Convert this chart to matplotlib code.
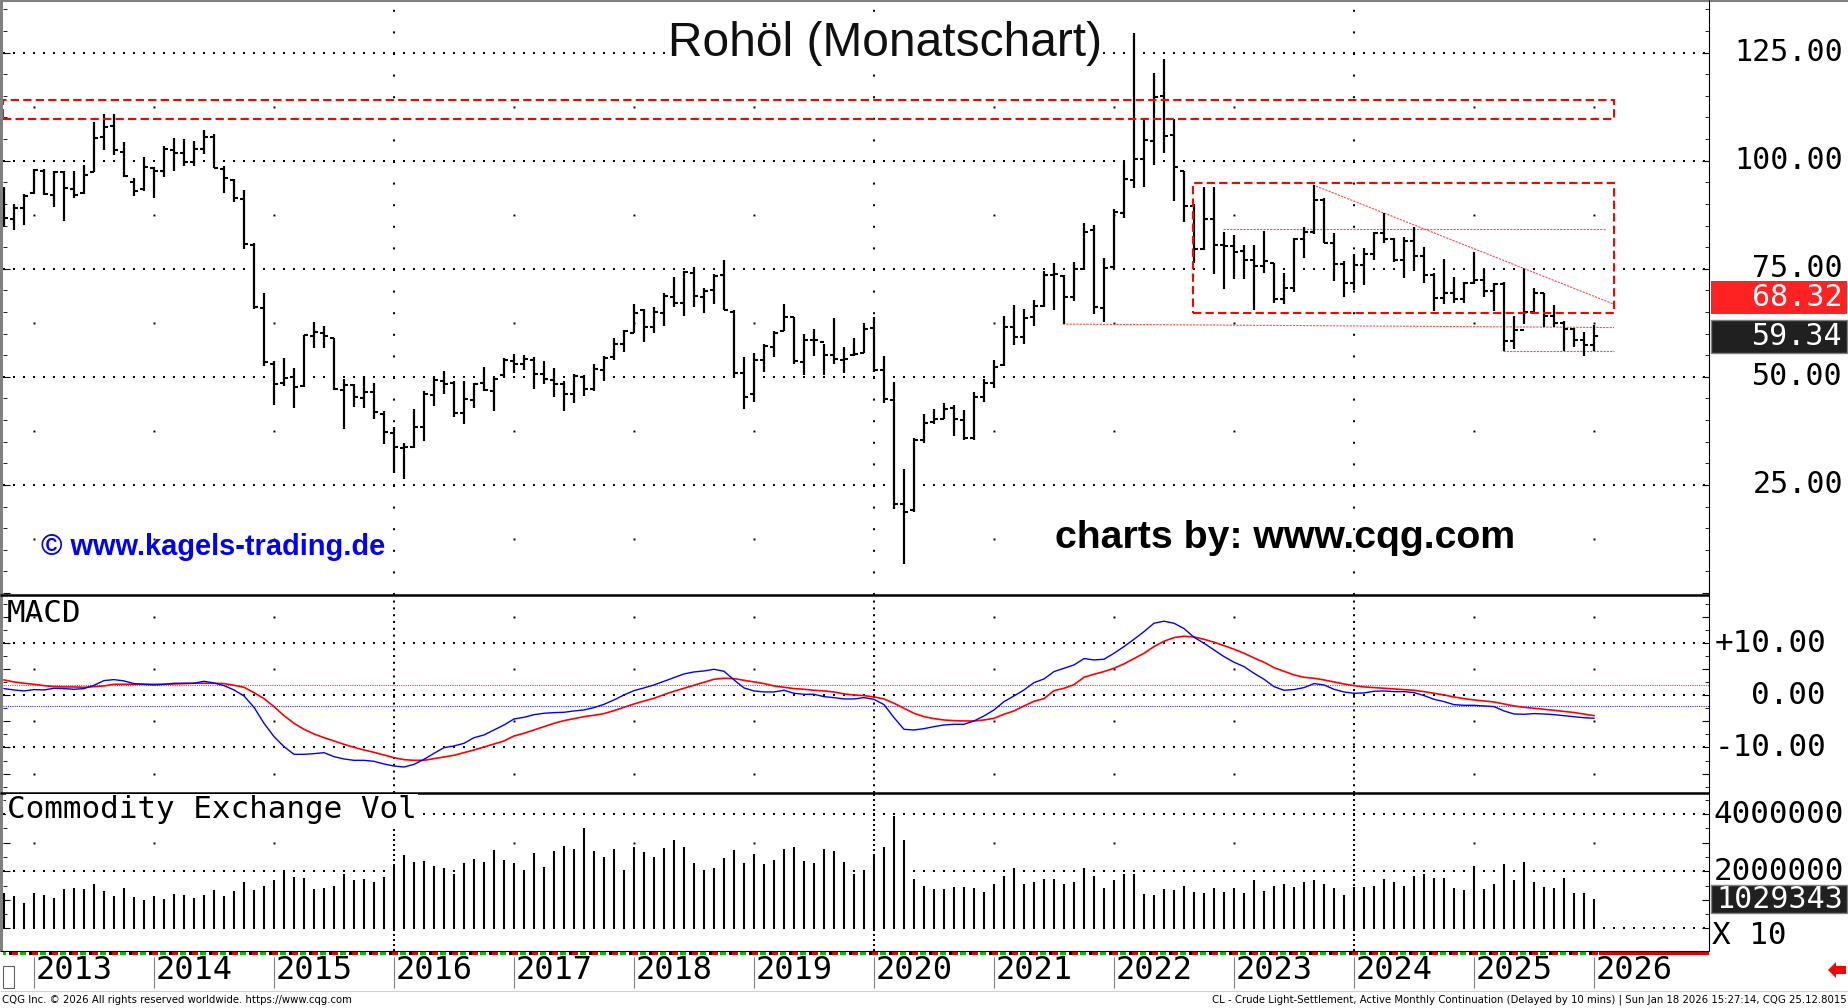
import numpy as np
import matplotlib
matplotlib.use('Agg')
import matplotlib.pyplot as plt
from matplotlib import font_manager
from matplotlib.patches import Rectangle, Polygon
from matplotlib.lines import Line2D
from matplotlib.transforms import blended_transform_factory

# monthly bars, Oct 2012 .. Jan 2026 (index 0 = Oct 2012)
opens = [92.0, 86.5, 89.0, 92.5, 97.5, 92.0, 97.3, 93.5, 92.5, 97.4,
         105.5, 108.0, 102.0, 95.0, 93.5, 98.2, 97.5, 102.5, 101.7, 99.6,
         102.6, 105.5, 98.0, 95.5, 91.2, 80.5, 66.0, 53.0, 48.5, 50.0,
         47.8, 59.5, 60.2, 59.0, 47.0, 48.0, 45.0, 46.5, 41.5, 37.0,
         33.5, 33.8, 38.3, 45.8, 49.0, 48.5, 41.7, 44.7, 48.6, 46.7,
         50.5, 53.7, 53.0, 54.0, 50.6, 49.3, 48.3, 46.0, 50.0, 47.2,
         51.6, 54.5, 57.5, 60.2, 65.5, 61.5, 64.7, 68.5, 67.0, 74.0,
         68.5, 70.0, 73.5, 65.0, 51.0, 46.0, 54.0, 56.8, 60.7, 63.8,
         53.5, 58.5, 58.0, 55.0, 54.0, 55.0, 55.5, 61.2, 51.5, 44.7,
         20.6, 19.2, 35.5, 39.5, 40.3, 42.8, 40.1, 35.8, 45.3, 48.5,
         52.7, 61.5, 59.2, 63.8, 66.5, 73.5, 73.4, 68.5, 75.0, 84.0,
         66.0, 75.5, 88.0, 95.5, 100.5, 104.5, 115.0, 106.0, 97.5, 89.5,
         79.5, 86.5, 80.5, 80.3, 79.0, 77.0, 75.7, 76.3, 68.1, 70.6,
         81.8, 83.5, 90.8, 81.0, 76.0, 71.7, 75.9, 78.3, 83.2, 81.9,
         77.0, 81.5, 77.9, 73.6, 68.2, 69.3, 68.0, 71.7, 72.5, 69.8,
         71.5, 58.2, 60.8, 65.1, 69.3, 64.0, 62.4, 61.0, 58.6, 57.4]

highs = [93.9, 89.9, 92.3, 98.0, 98.1, 97.6, 97.6, 97.6, 99.1, 108.9,
         110.7, 110.7, 104.4, 96.0, 100.8, 98.6, 103.4, 105.3, 104.9, 104.5,
         107.2, 106.1, 98.8, 95.7, 93.2, 81.0, 69.3, 53.7, 54.3, 52.0,
         59.7, 62.6, 61.8, 59.0, 49.4, 48.3, 50.3, 48.5, 42.0, 38.5,
         34.8, 42.5, 46.8, 50.0, 51.4, 49.1, 49.1, 48.5, 52.2, 49.9,
         54.4, 55.2, 55.0, 54.5, 53.7, 52.0, 49.1, 50.6, 50.4, 52.9,
         54.8, 59.0, 60.8, 66.8, 65.8, 66.2, 69.4, 73.0, 74.5, 75.3,
         70.5, 73.8, 77.0, 65.4, 54.5, 55.4, 57.6, 60.6, 66.8, 63.9,
         59.9, 61.0, 57.7, 63.5, 57.0, 58.9, 62.4, 63.9, 54.8, 48.7,
         28.6, 35.9, 41.5, 42.5, 44.0, 43.6, 42.3, 46.4, 49.6, 53.8,
         64.1, 66.7, 65.8, 67.8, 74.4, 76.3, 73.5, 76.5, 85.5, 85.2,
         77.5, 88.9, 100.0, 129.5, 109.4, 120.2, 123.6, 109.7, 97.7, 90.0,
         93.8, 93.8, 83.4, 82.9, 80.6, 80.6, 83.7, 76.3, 74.1, 82.0,
         84.7, 94.4, 91.3, 83.3, 76.8, 78.4, 79.7, 83.6, 87.8, 82.0,
         82.3, 84.7, 80.1, 74.0, 77.2, 73.0, 72.0, 78.9, 74.9, 71.8,
         72.0, 64.1, 74.9, 70.5, 69.4, 66.6, 63.0, 61.4, 60.4, 62.0]

lows = [84.7, 83.9, 85.1, 92.3, 92.0, 89.3, 86.1, 91.3, 92.3, 97.3,
        102.5, 101.4, 96.3, 91.8, 93.0, 91.3, 96.3, 97.6, 98.8, 98.8,
        101.5, 98.2, 92.6, 90.5, 79.5, 65.8, 52.5, 43.6, 47.9, 42.9,
        47.7, 56.6, 56.7, 46.9, 37.9, 43.1, 42.7, 40.2, 34.5, 27.7,
        26.3, 33.5, 35.2, 43.2, 46.0, 40.6, 39.2, 42.7, 46.8, 42.2,
        49.9, 50.8, 51.6, 47.1, 48.3, 45.3, 42.0, 43.9, 45.6, 46.8,
        49.1, 54.0, 55.8, 60.1, 58.1, 60.1, 61.8, 66.1, 64.1, 66.2,
        64.7, 66.8, 65.4, 49.7, 42.5, 44.2, 51.2, 54.5, 60.6, 53.0,
        50.4, 54.9, 50.4, 52.9, 51.0, 54.8, 55.4, 51.2, 43.9, 19.4,
        6.8, 18.8, 34.6, 39.1, 40.2, 36.3, 35.3, 35.3, 44.2, 47.4,
        52.6, 57.3, 57.7, 61.8, 66.2, 65.4, 62.2, 67.5, 74.8, 64.5,
        62.6, 74.8, 86.7, 93.6, 94.0, 98.9, 101.7, 90.6, 85.7, 76.3,
        79.3, 73.9, 70.3, 72.6, 72.6, 65.5, 74.1, 67.1, 66.9, 69.7,
        77.5, 83.0, 80.9, 72.2, 68.4, 70.1, 71.2, 77.0, 80.9, 76.5,
        72.8, 74.5, 71.6, 65.3, 66.8, 67.0, 67.0, 71.5, 68.4, 65.3,
        56.0, 56.4, 62.2, 64.7, 61.6, 61.6, 56.0, 57.0, 54.9, 56.0]

closes = [86.7, 89.1, 91.8, 97.8, 92.2, 97.3, 93.6, 92.0, 96.7, 105.2,
          107.8, 102.4, 96.4, 93.0, 98.6, 97.6, 102.6, 101.7, 99.8, 102.8,
          105.5, 98.2, 96.0, 91.3, 80.7, 66.2, 53.4, 48.4, 49.8, 47.7,
          59.6, 60.3, 59.5, 47.1, 48.0, 45.4, 46.6, 41.8, 37.2, 33.8,
          33.8, 38.5, 46.0, 49.3, 48.4, 41.6, 44.9, 48.3, 46.9, 49.5,
          53.8, 52.9, 54.1, 50.6, 49.4, 48.4, 46.1, 50.2, 47.3, 51.7,
          54.4, 57.5, 60.5, 64.8, 61.6, 64.9, 68.6, 67.1, 74.2, 68.8,
          69.8, 73.3, 65.4, 50.9, 45.4, 53.8, 57.2, 60.1, 63.9, 53.6,
          58.5, 58.6, 55.1, 54.1, 54.2, 55.2, 61.1, 51.6, 44.8, 20.5,
          18.8, 35.5, 39.3, 40.3, 42.6, 40.2, 35.8, 45.3, 48.5, 52.2,
          61.5, 59.2, 63.6, 66.3, 73.5, 73.9, 68.5, 75.0, 83.6, 66.2,
          75.2, 88.2, 95.7, 100.3, 104.7, 114.7, 105.8, 98.6, 89.6, 79.5,
          86.6, 80.6, 80.3, 78.9, 77.1, 75.7, 76.8, 68.1, 70.6, 81.8,
          83.6, 90.8, 81.0, 76.0, 71.7, 75.9, 78.3, 83.2, 81.9, 77.0,
          81.5, 77.9, 73.6, 68.2, 69.3, 68.0, 71.7, 72.5, 69.8, 71.5,
          58.2, 60.8, 65.1, 69.3, 64.0, 62.4, 61.0, 58.6, 57.4, 59.34]

# volume in millions (axis labels as printed by CQG)
volume = [1.23, 1.14, 0.88, 1.23, 1.16, 1.05, 1.37, 1.40, 1.37, 1.54,
          1.30, 1.12, 1.40, 1.09, 0.98, 1.12, 1.02, 1.19, 1.16, 1.05,
          1.16, 1.33, 1.12, 1.30, 1.64, 1.33, 1.50, 1.68, 2.03, 1.81,
          1.77, 1.37, 1.40, 1.50, 1.92, 1.68, 1.74, 1.64, 1.81, 2.20,
          2.58, 2.31, 2.37, 2.17, 2.10, 1.89, 2.30, 2.44, 2.31, 2.75,
          2.40, 2.28, 2.06, 2.65, 2.14, 2.72, 2.90, 2.79, 3.53, 2.72,
          2.51, 2.79, 2.03, 2.86, 2.69, 2.51, 2.82, 3.10, 2.86, 2.30,
          2.03, 2.13, 2.48, 2.75, 2.30, 2.62, 2.27, 2.40, 2.79, 2.86,
          2.37, 2.30, 2.79, 2.72, 2.34, 1.92, 1.97, 2.61, 2.84, 3.92,
          3.11, 1.72, 1.50, 1.37, 1.37, 1.44, 1.44, 1.40, 1.26, 1.57,
          1.85, 2.13, 1.57, 1.61, 1.72, 1.72, 1.57, 1.61, 2.10, 1.85,
          1.40, 1.68, 1.92, 1.92, 1.19, 1.16, 1.37, 1.33, 1.50, 1.26,
          1.23, 1.40, 1.26, 1.40, 1.23, 1.68, 1.30, 1.47, 1.54, 1.44,
          1.64, 1.68, 1.57, 1.40, 1.16, 1.44, 1.44, 1.47, 1.72, 1.64,
          1.50, 1.82, 1.89, 1.78, 1.78, 1.40, 1.33, 2.20, 1.37, 1.54,
          2.24, 1.68, 2.31, 1.61, 1.44, 1.40, 1.78, 1.23, 1.23, 1.029343]

macd = [1.28, 1.02, 0.83, 1.09, 1.02, 1.34, 1.28, 1.15, 1.28, 1.92,
        2.81, 3.00, 2.75, 2.24, 2.11, 1.98, 2.11, 2.30, 2.30, 2.30,
        2.68, 2.36, 1.85, 1.02, -0.13, -2.30, -5.37, -7.92, -9.84, -11.31,
        -11.31, -11.18, -10.99, -11.76, -12.20, -12.46, -12.46, -12.65, -13.16, -13.55,
        -13.74, -13.23, -12.27, -11.12, -10.03, -9.71, -9.20, -8.12, -7.60, -6.65,
        -5.69, -4.54, -4.22, -3.71, -3.45, -3.32, -3.26, -3.00, -2.81, -2.36,
        -1.73, -0.89, 0.06, 0.89, 1.41, 1.98, 2.68, 3.39, 4.09, 4.47,
        4.66, 4.98, 4.60, 2.94, 1.41, 0.83, 0.64, 0.64, 0.96, 0.38,
        0.19, 0.19, -0.26, -0.45, -0.70, -0.70, -0.45, -0.77, -1.79, -4.28,
        -6.52, -6.65, -6.39, -6.01, -5.69, -5.56, -5.56, -4.92, -3.96, -2.81,
        -1.21, -0.13, 1.02, 2.43, 3.13, 4.54, 5.18, 5.81, 7.03, 6.77,
        6.90, 8.05, 9.33, 10.73, 12.20, 13.80, 14.19, 13.80, 12.78, 11.12,
        9.97, 8.69, 7.41, 6.33, 5.50, 4.22, 3.07, 1.66, 0.96, 1.09,
        1.47, 2.24, 1.98, 1.15, 0.64, 0.38, 0.45, 0.77, 0.83, 0.70,
        0.70, 0.51, -0.06, -0.77, -1.21, -1.79, -1.92, -1.92, -2.04, -2.17,
        -3.00, -3.58, -3.64, -3.51, -3.58, -3.71, -3.90, -4.10, -4.30, -4.40]

signal = [2.94, 2.56, 2.30, 2.11, 1.85, 1.66, 1.60, 1.60, 1.53, 1.66,
          1.79, 2.11, 2.11, 2.11, 2.11, 2.11, 2.11, 2.17, 2.24, 2.30,
          2.30, 2.30, 2.24, 1.92, 1.53, 0.51, -0.64, -2.17, -3.90, -5.37,
          -6.52, -7.41, -8.12, -8.75, -9.39, -9.97, -10.48, -10.93, -11.44, -11.95,
          -12.33, -12.46, -12.46, -12.14, -11.82, -11.50, -10.99, -10.48, -9.90, -9.33,
          -8.75, -7.80, -7.28, -6.65, -6.01, -5.37, -4.86, -4.47, -4.09, -3.83,
          -3.51, -2.94, -2.30, -1.66, -1.09, -0.58, 0.13, 0.77, 1.34, 1.92,
          2.49, 3.07, 3.26, 3.19, 2.88, 2.56, 2.24, 1.79, 1.53, 1.28,
          1.15, 0.96, 0.83, 0.64, 0.26, 0.06, -0.06, -0.32, -0.70, -1.53,
          -2.49, -3.45, -4.09, -4.47, -4.73, -4.86, -4.92, -4.92, -4.73, -4.41,
          -3.64, -3.00, -2.04, -1.15, -0.64, 0.89, 1.34, 2.04, 3.45, 4.03,
          4.54, 5.18, 6.01, 7.03, 8.05, 9.33, 10.35, 11.05, 11.31, 11.18,
          10.73, 10.16, 9.52, 8.82, 8.05, 7.16, 6.33, 5.30, 4.60, 3.90,
          3.45, 3.26, 2.94, 2.56, 2.17, 1.85, 1.60, 1.47, 1.34, 1.21,
          1.09, 0.96, 0.70, 0.38, 0.06, -0.32, -0.64, -0.89, -1.09, -1.28,
          -1.66, -2.04, -2.30, -2.49, -2.68, -2.88, -3.10, -3.30, -3.60, -3.90]

years = ['2013', '2014', '2015', '2016', '2017', '2018', '2019',
         '2020', '2021', '2022', '2023', '2024', '2025', '2026']
price_ticks = [25, 50, 75, 100, 125]
macd_ticks = [10, 0, -10]
macd_tick_labels = ['+10.00', '0.00', '-10.00']
vol_ticks = [4.0, 2.0]
trigger_level = 68.32

# drawn levels (resistance zone, range box, trend lines)
zone = (109.6, 114.0)
box = (118.9, 161.0, 64.7, 94.9)
trend_down = ([130.9, 161.0], [94.4, 66.8])
range_mid = ([121.9, 160.1], [84.1, 84.1])
support_long = ([105.9, 161.0], [62.2, 61.4])
support_low = ([149.9, 161.0], [56.0, 56.0])

W, H = 1849, 1008
x = np.arange(len(closes))
first_jan = 3


def fx(px):
    return px / W


def fy(py):
    return 1 - py / H


def rect(x0, y0, x1, y1):
    return [fx(x0), fy(y1), (x1 - x0) / W, (y1 - y0) / H]


names = {f.name for f in font_manager.fontManager.ttflist}
if 'Liberation Sans Narrow' in names:
    narrow, foot_size = 'Liberation Sans Narrow', 9.6
else:
    narrow, foot_size = 'DejaVu Sans', 7.3
MONO = 'DejaVu Sans Mono'
DOT = (0, (1, 4))

fig = plt.figure(figsize=(W / 100, H / 100), dpi=100)
fig.patch.set_facecolor('white')

ax_p = fig.add_axes(rect(3, 2, 1709, 595))
ax_m = fig.add_axes(rect(3, 595, 1709, 793))
ax_v = fig.add_axes(rect(3, 793, 1709, 951))
ax_d = fig.add_axes(rect(3, 951, 1709, 990))
for ax in (ax_p, ax_m, ax_v, ax_d):
    ax.set_xlim(-0.1, 170.5)
    for s in ax.spines.values():
        s.set_visible(False)
    ax.tick_params(axis='x', which='both', bottom=False, top=False, labelbottom=False)

year_x = np.arange(len(years)) * 12 + first_jan
quad_x = year_x[[3, 7, 11]]        # 2016, 2020, 2024 get full vertical dotted lines
other_x = np.setdiff1d(year_x, quad_x)

# ---------- price panel ----------
ax_p.set_ylim(-0.46, 136.7)
ax_p.set_yticks(np.arange(0, 136, 25))
ax_p.set_yticks(np.arange(0, 136, 5), minor=True)
ax_p.tick_params(axis='y', which='both', direction='in', left=True, right=True,
                 labelleft=False, labelright=False)
ax_p.tick_params(axis='y', which='major', length=5)
ax_p.tick_params(axis='y', which='minor', length=3)
for v in price_ticks:
    ax_p.axhline(v, color='black', lw=1.44, ls=DOT, zorder=0)
for xv in quad_x:
    ax_p.axvline(xv, color='black', lw=1.44, ls=(0, (1, 9.8)), zorder=0)
mid_levels = [12.5, 37.5, 62.5, 87.5, 112.5]
gx, gy = np.meshgrid(other_x, mid_levels)
ax_p.plot(gx.ravel(), gy.ravel(), ls='none', marker='s', ms=1.4, mew=0, color='black', zorder=0)

ax_p.vlines(x, lows, highs, color='black', lw=1.6, capstyle='butt', zorder=3)
ax_p.hlines(opens, x - 0.38, x, color='black', lw=1.5, capstyle='butt', zorder=3)
ax_p.hlines(closes, x, x + 0.38, color='black', lw=1.5, capstyle='butt', zorder=3)

red = '#ff0000'
ax_p.add_patch(Rectangle((-0.05, zone[0]), box[1] + 0.05, zone[1] - zone[0], fill=False,
                         edgecolor=red, lw=1.5, ls=(0, (4, 2)), zorder=4))
ax_p.add_patch(Rectangle((box[0], box[2]), box[1] - box[0], box[3] - box[2], fill=False,
                         edgecolor=red, lw=1.5, ls=(0, (4, 2)), zorder=4))
for xs, ys in (trend_down, range_mid, support_long, support_low):
    ax_p.plot(xs, ys, color='#ff4a4a', lw=0.8, ls=(0, (2, 1)), zorder=2)

tr_p = blended_transform_factory(fig.transFigure, ax_p.transData)
for v in price_ticks:
    ax_p.text(fx(1843), v, f'{v:.2f}', transform=tr_p, ha='right', va='center',
              family=MONO, fontsize=21.6, clip_on=False)


def value_box(ax, tr, val, text, face, h, edge='none'):
    ax.add_patch(Rectangle((fx(1711), val - h / 2), fx(1847) - fx(1711), h, transform=tr,
                           facecolor=face, edgecolor=edge, lw=1, clip_on=False, zorder=5))
    ax.text(fx(1843), val, text, transform=tr, ha='right', va='center', color='white',
            family=MONO, fontsize=21.6, clip_on=False, zorder=6)


value_box(ax_p, tr_p, trigger_level, f'{trigger_level:.2f}', '#ff2222', 7.6)
value_box(ax_p, tr_p, closes[-1], f'{closes[-1]:.2f}', '#202020', 7.6, edge='#808080')

fig.text(fx(885), fy(44), 'Rohöl (Monatschart)', ha='center', va='center',
         family='Liberation Sans', fontsize=34.5, color='#101010',
         bbox=dict(facecolor='white', edgecolor='none', pad=0))
fig.text(fx(1285), fy(538), 'charts by: www.cqg.com', ha='center', va='center',
         family='Liberation Sans', weight='bold', fontsize=28.3, color='black')
fig.text(fx(213), fy(547), '© www.kagels-trading.de', ha='center', va='center',
         family='Liberation Sans', weight='bold', fontsize=20.9, color='#0000ff')

# ---------- MACD panel ----------
ax_m.set_ylim(-18.72, 19.21)
ax_m.set_yticks([-15, -10, -5, 0, 5, 10, 15])
ax_m.set_yticks(np.arange(-17.5, 19, 2.5), minor=True)
ax_m.tick_params(axis='y', which='both', direction='in', left=True, right=True,
                 labelleft=False, labelright=False)
ax_m.tick_params(axis='y', which='major', length=5)
ax_m.tick_params(axis='y', which='minor', length=3)
for v in macd_ticks:
    ax_m.axhline(v, color='black', lw=1.44, ls=DOT, zorder=0)
for xv in quad_x:
    ax_m.axvline(xv, color='black', lw=1.44, ls=(0, (1, 2.4)), zorder=0)
gx, gy = np.meshgrid(other_x, [-15, -5, 5, 15])
ax_m.plot(gx.ravel(), gy.ravel(), ls='none', marker='s', ms=1.4, mew=0, color='black', zorder=0)
ax_m.axhline(2, color='#ff3030', lw=0.8, ls=(0, (1, 1)), zorder=1)
ax_m.axhline(-2, color='#3030ff', lw=0.8, ls=(0, (1, 1)), zorder=1)
ax_m.plot(x, signal, color='#ff0000', lw=1.2, zorder=3)
ax_m.plot(x, macd, color='#0000ff', lw=1.0, zorder=3)
tr_m = blended_transform_factory(fig.transFigure, ax_m.transData)
for v, lab in zip(macd_ticks, macd_tick_labels):
    ax_m.text(fx(1826), v, lab, transform=tr_m, ha='right', va='center',
              family=MONO, fontsize=22.3, clip_on=False)
fig.text(fx(7), fy(613), 'MACD', ha='left', va='center', family=MONO, fontsize=22.3)

# ---------- volume panel ----------
vol = np.array(volume) * 1e6
ax_v.set_ylim(-0.79e6, 4.741e6)
ax_v.set_yticks(np.arange(0, 4.6e6, 1e6))
ax_v.set_yticks(np.arange(0, 4.6e6, 0.5e6), minor=True)
ax_v.tick_params(axis='y', which='both', direction='in', left=True, right=True,
                 labelleft=False, labelright=False)
ax_v.tick_params(axis='y', which='major', length=5)
ax_v.tick_params(axis='y', which='minor', length=3)
for v in (4e6, 2e6, 0):
    ax_v.axhline(v, color='black', lw=1.44, ls=DOT, zorder=0)
for xv in quad_x:
    ax_v.axvline(xv, color='black', lw=1.44, ls=(0, (1, 1.5)), zorder=0)
ax_v.plot(other_x, np.full(len(other_x), 3e6), ls='none', marker='s', ms=1.4, mew=0,
          color='black', zorder=0)
ax_v.vlines(x, 0, vol, color='black', lw=1.5, capstyle='butt', zorder=3)
tr_v = blended_transform_factory(fig.transFigure, ax_v.transData)
for v in vol_ticks:
    ax_v.text(fx(1844), v * 1e6, f'{int(v * 1e6)}', transform=tr_v, ha='right', va='center',
              family=MONO, fontsize=22.3, clip_on=False)
value_box(ax_v, tr_v, vol[-1], f'{int(round(vol[-1]))}', '#202020', 1.0e6, edge='#808080')
fig.text(fx(1712), fy(935), 'X 10', ha='left', va='center', family=MONO, fontsize=22.3)
fig.text(fx(7), fy(810), 'Commodity Exchange Vol', ha='left', va='center', family=MONO,
         fontsize=22.3, zorder=5, bbox=dict(facecolor='white', edgecolor='none', pad=1))

# ---------- date axis ----------
ax_d.set_ylim(0, 1)
ax_d.set_yticks([])
segs_k, segs_r, segs_g = [], [], []
for k in range(-1, len(closes), 2):
    segs_k.append((k - 0.5, 0.3))
    segs_r.append((k - 0.2, 0.6))
    segs_g.append((k + 0.6, 0.6))
ax_d.broken_barh(segs_k, (0.9, 0.1), facecolors='black')
ax_d.broken_barh(segs_r, (0.9, 0.1), facecolors='#e00000')
ax_d.broken_barh(segs_g, (0.9, 0.1), facecolors='#00c000')
ax_d.broken_barh([(len(closes) - 0.5, 12)], (0.9, 0.1), facecolors='#e00000')
for xv, lab in zip(year_x, years):
    ax_d.vlines(xv, 0.05, 0.85, color='#808080', lw=0.8)
    ax_d.text(xv + 0.15, 0.5, lab, ha='left', va='center', family=MONO, fontsize=23)

# ---------- frame and footer ----------
def fline(x0, y0, x1, y1, color, lw):
    fig.add_artist(Line2D([fx(x0), fx(x1)], [fy(y0), fy(y1)], transform=fig.transFigure,
                          color=color, lw=lw, solid_capstyle='butt'))


fline(0, 1, W, 1, '#808080', 1.5)
fline(1.5, 0, 1.5, 951, '#808080', 2.2)
fline(1709, 0, 1709, 951, 'black', 0.8)
fline(0, 595, 1709, 595, 'black', 1.8)
fline(0, 793, 1709, 793, 'black', 1.8)
fline(0, 951, 1709, 951, 'black', 0.8)
fline(0, 991, W, 991, '#d0d0d0', 0.8)
fig.add_artist(Rectangle((fx(3), fy(988)), fx(11), (988 - 966) / H, transform=fig.transFigure,
                         facecolor='white', edgecolor='#606060', lw=0.8))
arrow = [(1828, 970), (1836, 962), (1836, 966), (1846, 966), (1846, 974), (1836, 974), (1836, 978)]
fig.add_artist(Polygon([(fx(a), fy(b)) for a, b in arrow], closed=True,
                       transform=fig.transFigure, facecolor='#ff0000', edgecolor='none'))

fig.text(fx(2), fy(1000), 'CQG Inc. © 2026 All rights reserved worldwide. https://www.cqg.com',
         ha='left', va='center', family=narrow, fontsize=foot_size)
fig.text(fx(1847), fy(1000),
         'CL - Crude Light-Settlement, Active Monthly Continuation (Delayed by 10 mins) | '
         'Sun Jan 18 2026 15:27:14, CQG 25.12.8015',
         ha='right', va='center', family=narrow, fontsize=foot_size)

fig.savefig('out.png', dpi=100, facecolor='white')
